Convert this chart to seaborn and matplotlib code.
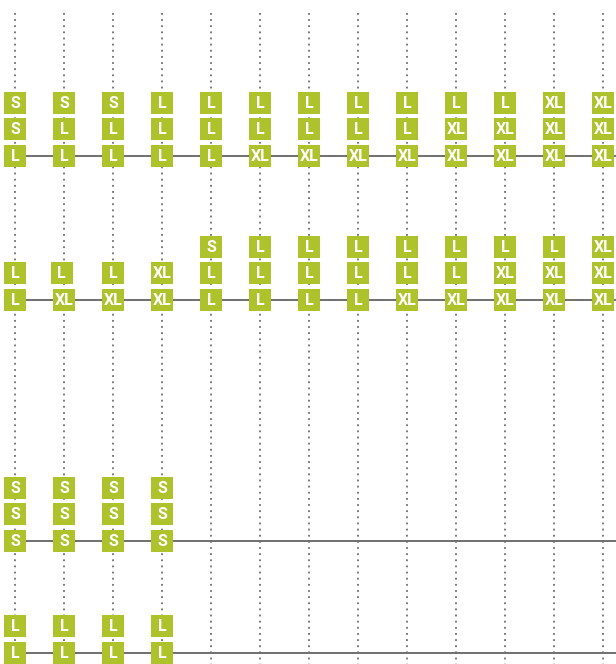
import numpy as np
import pandas as pd
import seaborn as sns
import matplotlib.pyplot as plt

# size labels per column, bottom -> top of each stack
track1 = [["L", "S", "S"], ["L", "L", "S"], ["L", "L", "S"], ["L", "L", "L"],
          ["L", "L", "L"], ["XL", "L", "L"], ["XL", "L", "L"], ["XL", "L", "L"],
          ["XL", "L", "L"], ["XL", "XL", "L"], ["XL", "XL", "L"],
          ["XL", "XL", "XL"], ["XL", "XL", "XL"]]
track2 = [["L", "L"], ["XL", "L"], ["XL", "L"], ["XL", "XL"],
          ["L", "L", "S"], ["L", "L", "L"], ["L", "L", "L"], ["L", "L", "L"],
          ["XL", "L", "L"], ["XL", "L", "L"], ["XL", "XL", "L"],
          ["XL", "XL", "L"], ["XL", "XL", "XL"]]
track3 = [["S", "S", "S"], ["S", "S", "S"], ["S", "S", "S"], ["S", "S", "S"]]
track4 = [["L", "L"], ["L", "L"], ["L", "L"], ["L", "L"]]

tracks = [track1, track2, track3, track4]
track_y = [156, 300, 541, 653]   # baseline of each track (top-down)
n_cols = 13
step = 26.7

rows = []
for t, (trk, y0) in enumerate(zip(tracks, track_y)):
    for c, stack in enumerate(trk):
        for k, lab in enumerate(stack):
            rows.append({"track": t, "col": c, "y": y0 - k * step, "label": lab})
df = pd.DataFrame(rows)
# one box in track 2 sits slightly off its column
df.loc[(df.track == 1) & (df.col == 1) & (df.y < 290), "col"] -= 0.05

sns.set_style("white")
plt.rcParams['font.family'] = ['Roboto', 'DejaVu Sans']

fig = plt.figure(figsize=(6.16, 6.64), dpi=100)
ax = fig.add_axes([0, 0, 1, 1])

xmin, xmax = -15 / 49, 12 + 13 / 49
ax.set_xlim(xmin, xmax)
ax.set_ylim(664, 0)

# dotted column guides
ax.vlines(np.arange(n_cols), 13, 670, color="#6e6e6e", lw=1.3,
          linestyles=(0, (1, 2.4)), zorder=1)
# solid track lines
for y0 in track_y:
    ax.hlines(y0, 0, xmax, color="#6f6f6f", lw=1.4, zorder=2)

sns.scatterplot(data=df, x="col", y="y", marker="s", s=268, color="#adc22b",
                linewidth=0, ax=ax, zorder=3, legend=False)
for _, r in df.iterrows():
    ax.text(r["col"], r["y"] + 0.5, r["label"], color="white", fontsize=11.5,
            fontweight="bold", ha="center", va="center", zorder=4)

ax.axis("off")
fig.savefig("out.png", dpi=100)
